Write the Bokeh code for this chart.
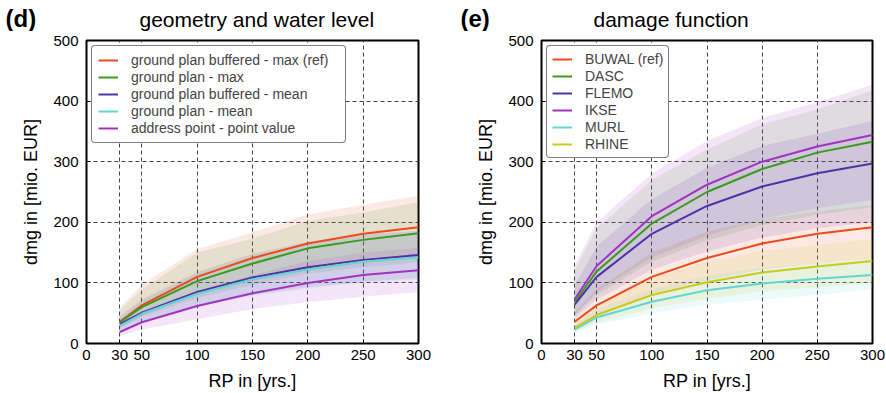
from bokeh.plotting import figure
from bokeh.models import Range1d, FixedTicker, Legend, LegendItem
from bokeh.layouts import row, column
from bokeh.core.properties import value
from bokeh.embed import file_html
from bokeh.resources import INLINE

RP = [30, 50, 100, 150, 200, 250, 300]
X_TICKS = [0, 30, 50, 100, 150, 200, 250, 300]
Y_TICKS = [0, 100, 200, 300, 400, 500]

# ---- panel (d): geometry and water level ----
d_title = "geometry and water level"
d_tag = "(d)"
d_names = ["ground plan buffered - max (ref)", "ground plan - max",
           "ground plan buffered - mean", "ground plan - mean",
           "address point - point value"]
d_gpb_max = [36, 63, 110, 141, 165, 181, 192]
d_gpb_max_lo = [26, 46, 80, 103, 121, 133, 141]
d_gpb_max_hi = [59, 97, 156, 183, 213, 229, 244]
d_gp_max = [35, 60, 103, 132, 157, 171, 182]
d_gp_max_lo = [25, 44, 75, 97, 115, 126, 134]
d_gp_max_hi = [54, 89, 150, 173, 202, 216, 233]
d_gpb_mean = [32, 51, 85, 109, 126, 138, 146]
d_gpb_mean_lo = [23, 37, 62, 80, 93, 102, 108]
d_gpb_mean_hi = [45, 72, 118, 148, 168, 180, 186]
d_gp_mean = [29, 49, 82, 106, 122, 135, 142]
d_gp_mean_lo = [21, 35, 60, 78, 90, 100, 105]
d_gp_mean_hi = [41, 69, 114, 144, 164, 176, 182]
d_addr = [19, 35, 62, 83, 100, 113, 121]
d_addr_lo = [12, 23, 40, 57, 68, 77, 85]
d_addr_hi = [27, 49, 86, 113, 136, 150, 158]

# ---- panel (e): damage function ----
e_title = "damage function"
e_tag = "(e)"
e_names = ["BUWAL (ref)", "DASC", "FLEMO", "IKSE", "MURL", "RHINE"]
e_buwal = [36, 63, 110, 141, 165, 181, 192]
e_buwal_lo = [27, 47, 82, 104, 122, 133, 140]
e_buwal_hi = [52, 90, 150, 185, 205, 218, 228]
e_dasc = [68, 119, 198, 250, 288, 315, 333]
e_dasc_lo = [45, 80, 135, 170, 195, 213, 225]
e_dasc_hi = [120, 190, 270, 320, 362, 386, 418]
e_flemo = [64, 110, 181, 227, 259, 281, 297]
e_flemo_lo = [42, 72, 122, 152, 175, 190, 200]
e_flemo_hi = [95, 160, 238, 290, 326, 346, 367]
e_ikse = [73, 128, 210, 262, 300, 325, 344]
e_ikse_lo = [48, 85, 142, 178, 205, 223, 237]
e_ikse_hi = [128, 200, 280, 334, 372, 398, 427]
e_murl = [23, 43, 69, 88, 99, 107, 113]
e_murl_lo = [17, 31, 50, 64, 72, 80, 90]
e_murl_hi = [30, 57, 90, 112, 125, 133, 140]
e_rhine = [26, 47, 80, 101, 117, 127, 136]
e_rhine_lo = [19, 34, 58, 74, 86, 93, 100]
e_rhine_hi = [35, 63, 108, 135, 153, 163, 172]

RED = "#ee4b1c"
GREEN = "#3a9a1e"
BLUE = "#4f32a8"
CYAN = "#62d6d2"
PURPLE = "#a232c2"
YELLOW = "#c9c91e"

FONT = "Liberation Sans"
W = 443
HEAD_H = 31
MAIN_H = 393 - HEAD_H


def make_header(title, tag, title_x, tag_x):
    h = figure(width=W, height=HEAD_H, output_backend="svg", toolbar_location=None,
               title_location=None,
               x_range=Range1d(0, W), y_range=Range1d(HEAD_H, 0),
               x_axis_location=None, y_axis_location=None,
               min_border=0, min_border_left=0, min_border_right=0,
               min_border_top=0, min_border_bottom=0)
    h.grid.visible = False
    h.outline_line_color = None
    h.background_fill_color = "white"
    h.border_fill_color = "white"
    h.text(x=[title_x], y=[19], text=[title], text_font=value(FONT),
           text_font_size="21px", text_color="black",
           text_baseline="middle", text_align="left")
    h.text(x=[tag_x], y=[17.5], text=[tag], text_font=value(FONT),
           text_font_size="24px", text_font_style="bold", text_color="black",
           text_baseline="middle", text_align="left")
    return h


def style_legend(leg, label_w, pad, margin):
    leg.location = "top_left"
    leg.label_text_font = FONT
    leg.label_text_font_size = "14px"
    leg.label_height = 14
    leg.label_width = label_w
    leg.glyph_height = 14
    leg.glyph_width = 20
    leg.spacing = 1
    leg.padding = pad
    leg.margin = margin
    leg.label_standoff = 13


def make_panel(series, names, b_left, b_right, legend_pad, label_w):
    p = figure(width=W, height=MAIN_H, output_backend="svg", toolbar_location=None,
               title_location=None,
               x_range=Range1d(0, 300), y_range=Range1d(0, 500),
               min_border_left=b_left, min_border_right=b_right,
               min_border_top=40 - HEAD_H, min_border_bottom=49)
    p.background_fill_color = "white"
    p.border_fill_color = "white"
    p.outline_line_color = "black"
    p.outline_line_width = 2

    p.xaxis.ticker = FixedTicker(ticks=X_TICKS)
    p.yaxis.ticker = FixedTicker(ticks=Y_TICKS)
    for ax in (p.xaxis, p.yaxis):
        ax.axis_line_color = None
        ax.major_tick_in = 4
        ax.major_tick_out = 0
        ax.major_tick_line_color = "black"
        ax.minor_tick_line_color = None
        ax.major_label_text_font = FONT
        ax.major_label_text_font_size = "15px"
        ax.major_label_text_color = "black"
        ax.axis_label_text_font = FONT
        ax.axis_label_text_font_size = "18px"
        ax.axis_label_text_font_style = "normal"
        ax.axis_label_text_color = "black"
    p.xaxis.axis_label = "RP in [yrs.]"
    p.yaxis.axis_label = "dmg in [mio. EUR]"
    p.xaxis.major_label_standoff = 6
    p.yaxis.major_label_standoff = 8
    p.xaxis.axis_label_standoff = 8
    p.yaxis.axis_label_standoff = 9

    for g in (p.xgrid, p.ygrid):
        g.grid_line_color = "#444444"
        g.grid_line_dash = "4 3"
        g.grid_line_width = 1

    for mean, lo, hi, color in series:
        p.varea(x=RP, y1=lo, y2=hi, fill_color=color, fill_alpha=0.12)
    renderers = []
    for (mean, lo, hi, color) in series:
        renderers.append(p.line(RP, mean, line_color=color, line_width=2))

    # drop shadow of the legend box (same size, shifted 3 px right/down)
    shadow = Legend(items=[LegendItem(label=" ", renderers=[r]) for r in renderers])
    style_legend(shadow, label_w, legend_pad, 8)
    shadow.border_line_color = None
    shadow.background_fill_color = "#bdbdbd"
    shadow.background_fill_alpha = 1
    shadow.label_text_alpha = 0
    p.add_layout(shadow)

    leg = Legend(items=[LegendItem(label=n, renderers=[r]) for n, r in zip(names, renderers)])
    style_legend(leg, label_w, legend_pad, 5)
    leg.border_line_color = "black"
    leg.border_line_width = 1.5
    leg.background_fill_color = "white"
    leg.background_fill_alpha = 1
    if "border_radius" in Legend.properties():
        leg.border_radius = 4
        shadow.border_radius = 4
    p.add_layout(leg)
    return p


h1 = make_header(d_title, d_tag, 139, 5)
h2 = make_header(e_title, e_tag, 150, 17)

p1 = make_panel([
    (d_gpb_max, d_gpb_max_lo, d_gpb_max_hi, RED),
    (d_gp_max, d_gp_max_lo, d_gp_max_hi, GREEN),
    (d_gpb_mean, d_gpb_mean_lo, d_gpb_mean_hi, BLUE),
    (d_gp_mean, d_gp_mean_lo, d_gp_mean_hi, CYAN),
    (d_addr, d_addr_lo, d_addr_hi, PURPLE),
], d_names, 86, 25, 6, 208)

p2 = make_panel([
    (e_buwal, e_buwal_lo, e_buwal_hi, RED),
    (e_dasc, e_dasc_lo, e_dasc_hi, GREEN),
    (e_flemo, e_flemo_lo, e_flemo_hi, BLUE),
    (e_ikse, e_ikse_lo, e_ikse_hi, PURPLE),
    (e_murl, e_murl_lo, e_murl_hi, CYAN),
    (e_rhine, e_rhine_lo, e_rhine_hi, YELLOW),
], e_names, 98, 14, 5, 78)

layout = column(row(h1, h2), row(p1, p2))
open("out.html", "w").write(file_html(layout, INLINE))
